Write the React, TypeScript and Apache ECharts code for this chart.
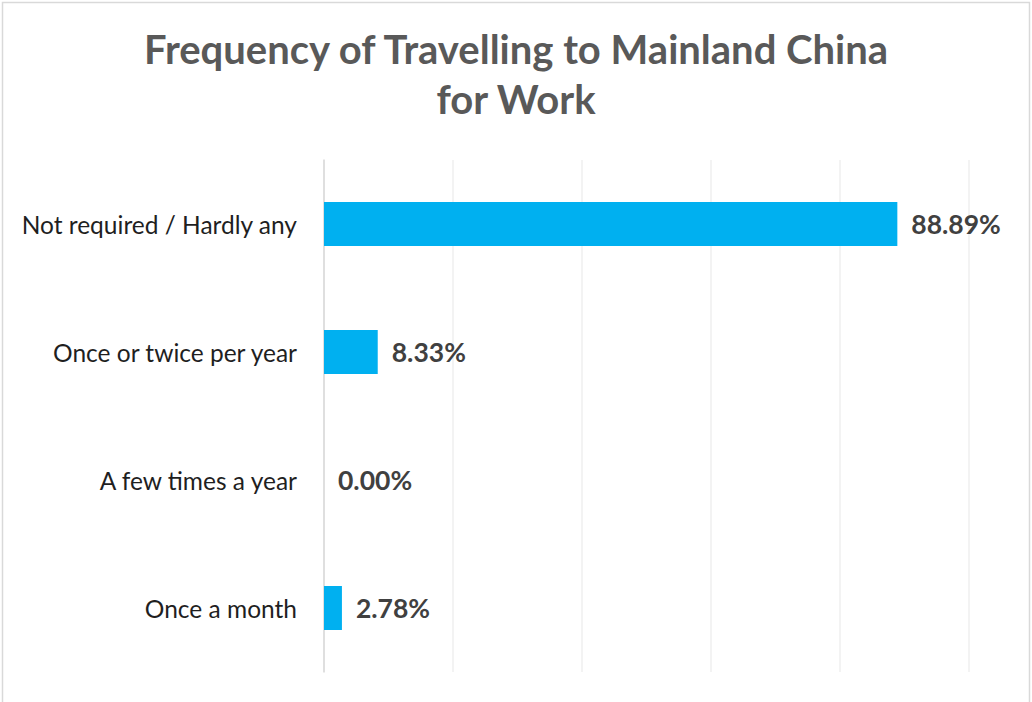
import React, { useEffect, useRef } from "react";
import * as echarts from "echarts";

const categories = ["Not required / Hardly any", "Once or twice per year", "A few times a year", "Once a month"];
const values = [88.89, 8.33, 0.0, 2.78];
const titleText = "Frequency of Travelling to Mainland China\nfor Work";

export default function App() {
  const ref = useRef<HTMLDivElement>(null);
  useEffect(() => {
    const chart = echarts.init(ref.current!, null, { renderer: "svg" });
    chart.setOption({
      animation: false,
      backgroundColor: "#ffffff",
      title: {
        text: titleText,
        left: "center",
        top: 19,
        textStyle: { fontFamily: "Lato", fontWeight: "bold", fontSize: 40, color: "#595959", lineHeight: 50 },
      },
      graphic: [
        {
          type: "rect",
          shape: { x: 2.5, y: 2.5, width: 1027, height: 710 },
          style: { fill: "none", stroke: "#d9d9d9", lineWidth: 1.5 },
          silent: true,
        },
      ],
      grid: { left: 324, right: 63, top: 160, bottom: 30, containLabel: false },
      xAxis: {
        type: "value",
        min: 0,
        max: 100,
        interval: 20,
        axisLabel: { show: false },
        axisLine: { show: false },
        axisTick: { show: false },
        splitLine: { show: true, lineStyle: { color: "#efefef", width: 1.5 } },
      },
      yAxis: {
        type: "category",
        inverse: true,
        data: categories,
        axisLine: { show: true, lineStyle: { color: "#d9d9d9", width: 1.5 } },
        axisTick: { show: false },
        axisLabel: { fontFamily: "Lato", fontSize: 24.5, color: "#1f1f1f", margin: 27 },
      },
      series: [
        {
          type: "bar",
          data: values,
          barWidth: 44,
          itemStyle: { color: "#00b0f0" },
          label: {
            show: true,
            position: "right",
            distance: 14,
            formatter: (p: any) => p.value.toFixed(2) + "%",
            fontFamily: "Lato",
            fontWeight: "bold",
            fontSize: 26.5,
            color: "#404040",
          },
        },
      ],
    });
    return () => chart.dispose();
  }, []);
  return <div ref={ref} style={{ position: "fixed", left: 0, top: 0, width: 1032, height: 702 }} />;
}
